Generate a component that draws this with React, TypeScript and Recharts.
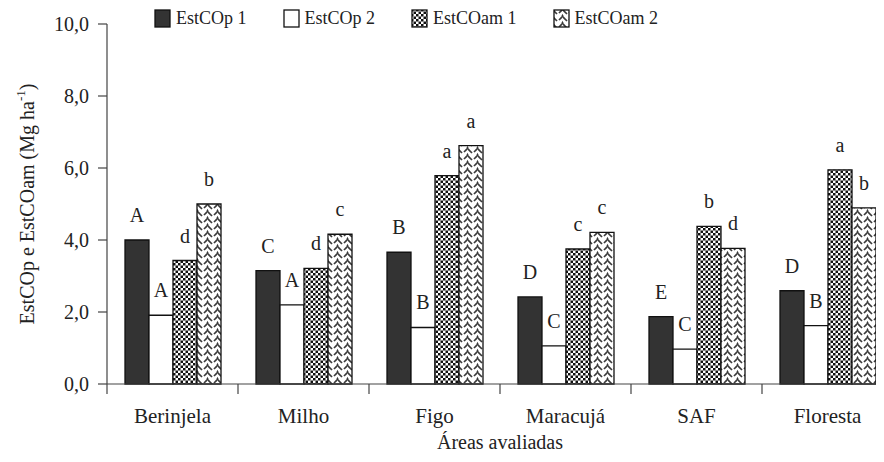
import React from "react";
import {
    BarChart, Bar, XAxis, YAxis, Legend, LabelList
} from 'recharts';

const categories = ['Berinjela', 'Milho', 'Figo', 'Maracujá', 'SAF', 'Floresta'];
const estCOp1 = [4.0, 3.15, 3.66, 2.42, 1.87, 2.59];
const estCOp2 = [1.91, 2.2, 1.57, 1.06, 0.97, 1.62];
const estCOam1 = [3.43, 3.21, 5.79, 3.75, 4.38, 5.95];
const estCOam2 = [5.0, 4.16, 6.62, 4.21, 3.77, 4.89];
const lettersP1 = ['A', 'C', 'B', 'D', 'E', 'D'];
const lettersP2 = ['A', 'A', 'B', 'C', 'C', 'B'];
const lettersAm1 = ['d', 'd', 'a', 'c', 'b', 'a'];
const lettersAm2 = ['b', 'c', 'a', 'c', 'd', 'b'];
const yTicks = [0, 2, 4, 6, 8, 10];

const data = categories.map((name, i) => ({
    name,
    p1: estCOp1[i], p2: estCOp2[i], am1: estCOam1[i], am2: estCOam2[i],
    p1L: lettersP1[i], p2L: lettersP2[i], am1L: lettersAm1[i], am2L: lettersAm2[i],
}));

const FONT = '"Liberation Serif", "Times New Roman", serif';
const AXIS = '#444';

const series = [
    { key: 'p1', name: 'EstCOp 1', fill: '#333' },
    { key: 'p2', name: 'EstCOp 2', fill: '#fff' },
    { key: 'am1', name: 'EstCOam 1', fill: 'url(#patAm1)' },
    { key: 'am2', name: 'EstCOam 2', fill: 'url(#patAm2)' },
];

const fmt = (v: number) => v.toFixed(1).replace('.', ',');

function XTick(props: any) {
    const { x, y, payload } = props;
    const half = payload && payload.offset ? payload.offset : 65.5;
    return <g>
        <line x1={x - half} x2={x - half} y1={y - 8} y2={y + 2} stroke={AXIS} strokeWidth={1.2} />
        <text x={x} y={y + 31} textAnchor="middle" fontSize={21} fontFamily={FONT} fill="#222">{payload.value}</text>
    </g>
}

function YLabel(props: any) {
    const { viewBox } = props;
    const cx = 19;
    const cy = viewBox.y + viewBox.height / 2;
    return <text x={cx} y={cy} transform={`rotate(-90 ${cx} ${cy})`} textAnchor="middle"
        dominantBaseline="central" fontSize={20} fontFamily={FONT} fill="#222">
        EstCOp e EstCOam (Mg ha<tspan dy={-7} fontSize={13}>-1</tspan><tspan dy={7}>)</tspan>
    </text>
}

function LegendContent() {
    return <div style={{ display: 'flex', alignItems: 'center', fontFamily: FONT, fontSize: 18, color: '#222' }}>
        {series.map(s => <div key={s.key} style={{ display: 'flex', alignItems: 'center', marginRight: 36 }}>
            <svg width={17} height={19} style={{ marginRight: 5 }}>
                <rect x={1} y={1} width={15} height={17} fill={s.fill} stroke="#111" strokeWidth={1.3} />
            </svg>
            <span>{s.name}</span>
        </div>)}
    </div>
}

export default function App() {
    return <div style={{ width: 876, height: 454, overflow: 'hidden' }}>
        <BarChart width={900} height={454} data={data}
            margin={{ top: 16, right: 15, left: 0, bottom: 8 }}
            barCategoryGap={18} barGap={0}>
            <defs>
                <pattern id="patAm1" width={5} height={5} patternUnits="userSpaceOnUse">
                    <rect width={5} height={5} fill="#fff" />
                    <rect width={2.5} height={2.5} fill="#111" />
                    <rect x={2.5} y={2.5} width={2.5} height={2.5} fill="#111" />
                </pattern>
                <pattern id="patAm2" width={10} height={7} patternUnits="userSpaceOnUse">
                    <rect width={10} height={7} fill="#fff" />
                    <polyline points="-1,0 4,5" fill="none" stroke="#3a3a3a" strokeWidth={1.7} />
                    <polyline points="6,4 10,0" fill="none" stroke="#3a3a3a" strokeWidth={1.7} />
                    <polyline points="-1,7 0,6" fill="none" stroke="#3a3a3a" strokeWidth={1.7} />
                    <polyline points="9,7 11,5" fill="none" stroke="#3a3a3a" strokeWidth={1.7} />
                </pattern>
            </defs>
            <XAxis dataKey="name" height={70} axisLine={{ stroke: AXIS, strokeWidth: 1.2 }}
                tickLine={false} tick={<XTick />} interval={0}
                label={{ value: 'Áreas avaliadas', position: 'insideBottom', offset: 5, fontSize: 20, fontFamily: FONT, fill: '#222' }} />
            <YAxis width={99} domain={[0, 10]} ticks={yTicks} tickFormatter={fmt}
                axisLine={{ stroke: AXIS, strokeWidth: 1.2 }} tickLine={{ stroke: AXIS, strokeWidth: 1.2 }}
                tickSize={9} tickMargin={9}
                tick={{ fontSize: 20, fontFamily: FONT, fill: '#222' }}
                label={<YLabel />} />
            <Legend layout="horizontal" verticalAlign="middle" align="center"
                wrapperStyle={{ top: 0, left: 146, width: 'auto' }} content={<LegendContent />} />
            {series.map(s => <Bar key={s.key} dataKey={s.key} name={s.name} fill={s.fill}
                stroke="#111" strokeWidth={1.3} isAnimationActive={false}>
                <LabelList dataKey={s.key + 'L'} position="top" offset={18}
                    style={{ fontSize: 20, fontFamily: FONT, fill: '#222' }} />
            </Bar>)}
        </BarChart>
    </div>
}
